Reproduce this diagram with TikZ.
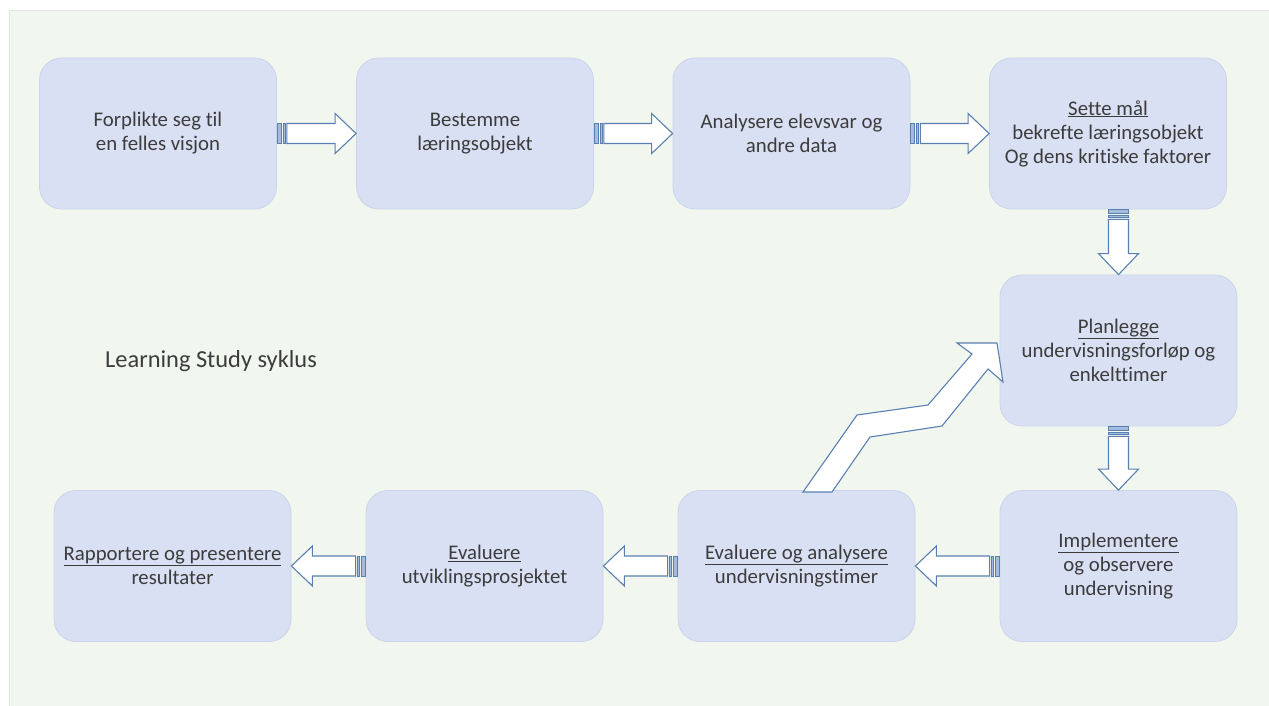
\documentclass[tikz,border=0pt]{standalone}
\usepackage{fontspec}
\setmainfont{Carlito}[Ligatures=NoCommon]
\usetikzlibrary{calc}

\definecolor{bg}{HTML}{F1F6EF}
\definecolor{bgedge}{HTML}{E3E7E1}
\definecolor{boxfill}{HTML}{DAE0F3}
\definecolor{boxedge}{HTML}{CAD5EA}
\definecolor{arrowedge}{HTML}{5A80B2}
\definecolor{stripefill}{HTML}{A3BBDC}
\definecolor{txt}{HTML}{3C3C3C}

\tikzset{
  stage/.style={rectangle, rounded corners=22pt, fill=boxfill, draw=boxedge,
    line width=0.8pt, minimum width=237pt, minimum height=151pt,
    align=center, text=txt, inner sep=0pt,
    font=\fontsize{20.8}{24}\selectfont},
  arrowbody/.style={fill=white, draw=arrowedge, line width=1.1pt, line join=miter},
  arrowstripe/.style={fill=stripefill, draw=arrowedge, line width=0.8pt},
}

% Striped block arrow from tail #1 to tip #2
\newcommand\stripedarrow[2]{%
  \coordinate (sa0) at (#1);
  \coordinate (sa1) at ($(#1)!4pt!(#2)$);
  \coordinate (sa2) at ($(#1)!6pt!(#2)$);
  \coordinate (sa3) at ($(#1)!8pt!(#2)$);
  \coordinate (sa4) at ($(#1)!10pt!(#2)$);
  \coordinate (sahb) at ($(#2)!21pt!(#1)$);
  \path[arrowstripe] ($(sa0)!10pt!90:(#2)$) -- ($(sa1)!10pt!90:(#2)$)
    -- ($(sa1)!-10pt!90:(#2)$) -- ($(sa0)!-10pt!90:(#2)$) -- cycle;
  \path[arrowstripe] ($(sa2)!10pt!90:(#2)$) -- ($(sa3)!10pt!90:(#2)$)
    -- ($(sa3)!-10pt!90:(#2)$) -- ($(sa2)!-10pt!90:(#2)$) -- cycle;
  \path[arrowbody] ($(sa4)!10pt!90:(#2)$) -- ($(sahb)!10pt!90:(#2)$)
    -- ($(sahb)!20pt!90:(#2)$) -- (#2) -- ($(sahb)!-20pt!90:(#2)$)
    -- ($(sahb)!-10pt!90:(#2)$) -- ($(sa4)!-10pt!90:(#2)$) -- cycle;
}

\begin{document}
\begin{tikzpicture}[x=1pt, y=-1pt]
  \useasboundingbox (0,0) rectangle (1269,706);
  \fill[white] (0,0) rectangle (1269,706);
  \filldraw[fill=bg, draw=bgedge, line width=0.6pt] (9,10) rectangle (1275,712);

  % stages
  \node[stage] (b1) at (158,133.5) {Forplikte seg til\\en felles visjon};
  \node[stage] (b2) at (475,133.5) {Bestemme\\læringsobjekt};
  \node[stage] (b3) at (791.5,133.5) {Analysere elevsvar og\\andre data};
  \node[stage] (b4) at (1108,133.5) {\underline{Sette mål}\\bekrefte læringsobjekt\\Og dens kritiske faktorer};
  \node[stage] (plan) at (1118.5,350.5) {\underline{Planlegge}\\undervisningsforløp og\\enkelttimer};
  \node[stage] (impl) at (1118.5,566) {\underline{Implementere}\\og observere\\undervisning};
  \node[stage] (eval2) at (796.5,566) {\underline{Evaluere og analysere}\\undervisningstimer};
  \node[stage] (eval1) at (484.5,566) {\underline{Evaluere}\\utviklingsprosjektet};
  \node[stage] (rapp) at (172.5,566) {\underline{Rapportere og presentere}\\resultater};

  \node[anchor=west, inner sep=0pt, text=txt, font=\fontsize{24.4}{28}\selectfont]
    (title) at (105,361) {Learning Study syklus};

  % connectors
  \stripedarrow{b1.east}{b2.west}
  \stripedarrow{b2.east}{b3.west}
  \stripedarrow{b3.east}{b4.west}
  \coordinate (d1) at (plan.north |- b4.south);
  \stripedarrow{d1}{plan.north}
  \stripedarrow{plan.south}{impl.north}
  \stripedarrow{impl.west}{eval2.east}
  \stripedarrow{eval2.west}{eval1.east}
  \stripedarrow{eval1.west}{rapp.east}

  % bent arrow back up to planning
  \path[arrowbody] (803,492) -- (857,415) -- (928,405) -- (972,354)
    -- (957,343) -- (997,343) -- (1003,382) -- (988,369) -- (942,426)
    -- (870,437) -- (832,492) -- cycle;
\end{tikzpicture}
\end{document}
